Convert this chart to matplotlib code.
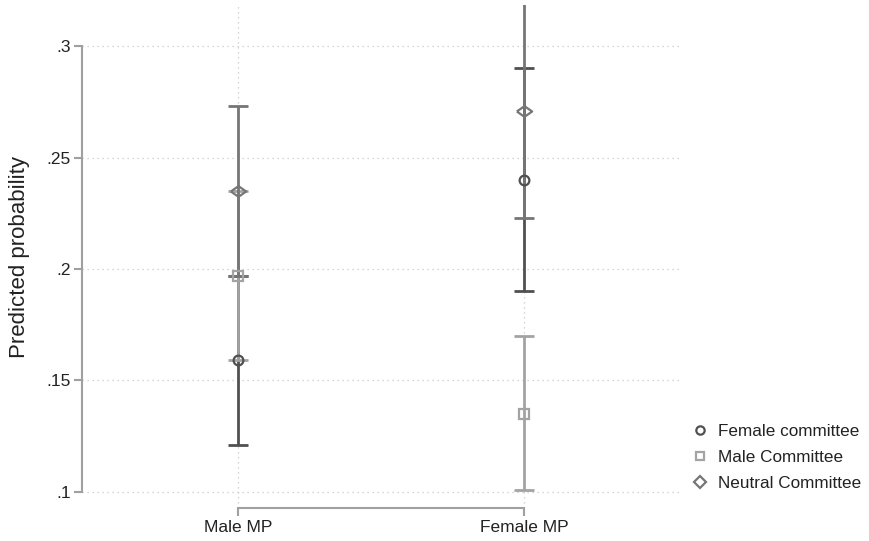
import matplotlib
matplotlib.use("Agg")
import matplotlib.pyplot as plt
from matplotlib.lines import Line2D

plt.rcParams['font.family'] = ['Liberation Sans', 'DejaVu Sans']

categories = ["Male MP", "Female MP"]
series_names = ["Female committee", "Male Committee", "Neutral Committee"]
estimates = {
    "Female committee": [0.159, 0.240],
    "Male Committee": [0.197, 0.135],
    "Neutral Committee": [0.235, 0.271],
}
lower = {
    "Female committee": [0.121, 0.190],
    "Male Committee": [0.159, 0.101],
    "Neutral Committee": [0.197, 0.223],
}
upper = {
    "Female committee": [0.197, 0.290],
    "Male Committee": [0.235, 0.170],
    "Neutral Committee": [0.273, 0.321],
}
y_ticks = [0.1, 0.15, 0.2, 0.25, 0.3]
y_tick_labels = [".1", ".15", ".2", ".25", ".3"]

wide_diamond = [(-1, 0), (0, 0.7), (1, 0), (0, -0.7), (-1, 0)]
colors = {"Female committee": "#505050", "Male Committee": "#a3a3a3", "Neutral Committee": "#767676"}
markers = {"Female committee": "o", "Male Committee": "s", "Neutral Committee": wide_diamond}
legend_markers = {"Female committee": "o", "Male Committee": "s", "Neutral Committee": "D"}
msizes = {"Female committee": 7, "Male Committee": 6.5, "Neutral Committee": 11}
legend_sizes = {"Female committee": 6, "Male Committee": 6, "Neutral Committee": 6.5}

fig = plt.figure(figsize=(8.7, 5.41), dpi=100)
W, H = 870, 541
left, right, top, bottom = 82, 682, 5, 508
ax = fig.add_axes([left / W, 1 - bottom / H, (right - left) / W, (bottom - top) / H])

xpos = [1, 2]
ax.set_xlim(0.455, 2.552)
ax.set_ylim(0.0928, 0.3184)

ax.set_yticks(y_ticks)
ax.set_yticklabels(y_tick_labels)
ax.set_xticks(xpos)
ax.set_xticklabels(categories)

ax.grid(True, linestyle=(0, (1, 3)), color="#c8c8c8", linewidth=0.9)
ax.set_axisbelow(True)

for name in series_names:
    y = estimates[name]
    yerr = [[y[i] - lower[name][i] for i in range(2)], [upper[name][i] - y[i] for i in range(2)]]
    ax.errorbar(xpos, y, yerr=yerr, fmt="none", ecolor=colors[name], elinewidth=2.0,
                capsize=7, capthick=2.0, zorder=3, clip_on=True)
for name in series_names:
    ax.plot(xpos, estimates[name], linestyle="none", marker=markers[name], markersize=msizes[name],
            markerfacecolor="none", markeredgecolor=colors[name], markeredgewidth=1.6, zorder=4)

for s in ["top", "right"]:
    ax.spines[s].set_visible(False)
ax.spines["left"].set_bounds(0.1, 0.3)
ax.spines["bottom"].set_bounds(1, 2)
for s in ["left", "bottom"]:
    ax.spines[s].set_color("#a0a0a0")
    ax.spines[s].set_linewidth(1.5)
ax.tick_params(axis="both", color="#a0a0a0", width=1.5, length=6, labelsize=12.5, labelcolor="#222222")
ax.tick_params(axis="y", pad=2)
ax.tick_params(axis="x", pad=3)

ax.set_ylabel("Predicted probability", fontsize=16, color="#222222", labelpad=12)

handles = [Line2D([0], [0], linestyle="none", marker=legend_markers[n], markersize=legend_sizes[n],
                  markerfacecolor="none", markeredgecolor=colors[n], markeredgewidth=1.6)
           for n in series_names]
fig.legend(handles, series_names, loc="upper left", bbox_to_anchor=(683 / W, 1 - 415 / H),
           frameon=False, fontsize=12.3, handlelength=1.0, handletextpad=0.55,
           labelspacing=0.65, borderpad=0, labelcolor="#222222")

fig.savefig("out.png", dpi=100)
